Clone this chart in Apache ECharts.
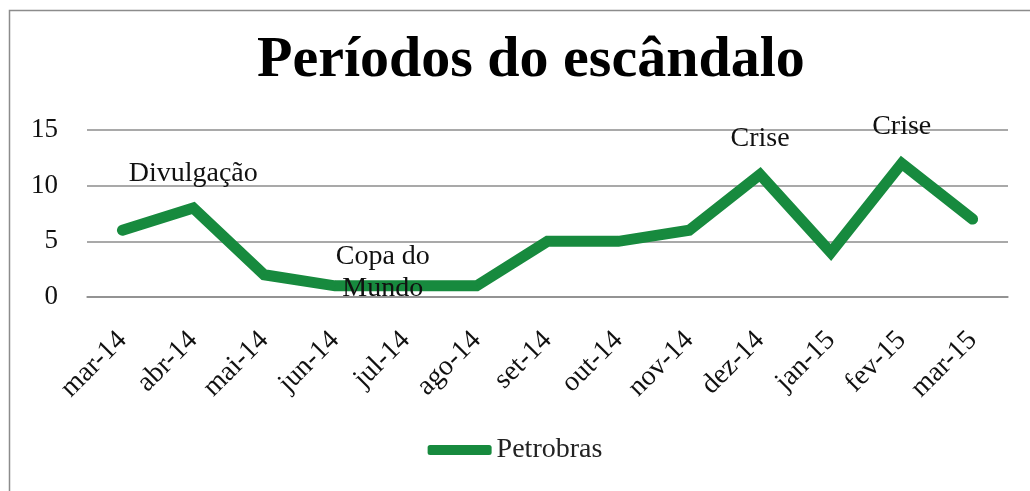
<!DOCTYPE html>
<html>
<head>
<meta charset="utf-8">
<script src="https://cdn.jsdelivr.net/npm/echarts@6/dist/echarts.min.js"></script>
<style>
  html, body { margin: 0; padding: 0; background: #fff; }
  #main { width: 1030px; height: 491px; }
</style>
</head>
<body>
<div id="main"></div>
<script>
var months = ['mar-14', 'abr-14', 'mai-14', 'jun-14', 'jul-14', 'ago-14', 'set-14', 'out-14', 'nov-14', 'dez-14', 'jan-15', 'fev-15', 'mar-15']
var petrobras = [6, 8, 2, 1, 1, 1, 5, 5, 6, 11, 4, 12, 7]
var notes = ['', 'Divulgação', '', '', 'Copa do\nMundo', '', '', '', '', 'Crise', '', 'Crise', '']
var yTicks = [0, 5, 10, 15]

var serif = '"Liberation Serif", "DejaVu Serif", serif'
var green = '#178a3e'

// label offsets for the annotations, by index
var noteOffset = {
    1: [0, -13],
    4: [-23, 24],
    9: [0, -14],
    11: [0, -15]
}

function build_data() {
    var out = []
    for (let i = 0; i < petrobras.length; i++) {
        var item = { value: petrobras[i] }
        if (notes[i] != '') {
            item.label = {
                show: true,
                position: 'top',
                formatter: notes[i],
                offset: noteOffset[i],
                color: '#111',
                fontFamily: serif,
                fontSize: 28,
                lineHeight: 32
            }
        }
        out.push(item)
    }
    return out
}

var chart = echarts.init(document.getElementById('main'))
chart.setOption({
    animation: false,
    title: {
        text: 'Períodos do escândalo',
        left: 252,
        top: 27,
        textStyle: {
            fontFamily: serif,
            fontWeight: 'bold',
            fontSize: 58,
            color: '#000'
        }
    },
    graphic: [{
        type: 'rect',
        shape: { x: 9.5, y: 10.5, width: 1100, height: 600 },
        style: { fill: 'none', stroke: '#8c8c8c', lineWidth: 1.5 },
        silent: true
    }],
    legend: {
        bottom: 22,
        left: 'center',
        itemWidth: 64,
        itemHeight: 10,
        itemGap: 4,
        icon: 'roundRect',
        itemStyle: { color: green },
        textStyle: { fontFamily: serif, fontSize: 28, color: '#222' },
        data: ['Petrobras']
    },
    grid: {
        left: 87,
        right: 22,
        top: 130,
        bottom: 194
    },
    xAxis: {
        type: 'category',
        data: months,
        axisLine: { lineStyle: { color: '#8c8c8c', width: 1.5 } },
        axisTick: { show: false },
        axisLabel: {
            rotate: 45,
            margin: 39,
            interval: 0,
            fontFamily: serif,
            fontSize: 28,
            color: '#111'
        }
    },
    yAxis: {
        type: 'value',
        min: yTicks[0],
        max: yTicks[yTicks.length - 1],
        interval: 5,
        axisLine: { show: false },
        axisTick: { show: false },
        splitLine: { lineStyle: { color: '#8c8c8c', width: 1.5 } },
        axisLabel: {
            margin: 29,
            fontFamily: serif,
            fontSize: 27,
            color: '#111'
        }
    },
    series: [{
        name: 'Petrobras',
        type: 'line',
        data: build_data(),
        symbol: 'circle',
        symbolSize: 1,
        showAllSymbol: true,
        color: green,
        itemStyle: { color: green },
        lineStyle: { color: green, width: 11, cap: 'round', join: 'miter' },
        label: { show: false }
    }]
})
</script>
</body>
</html>
